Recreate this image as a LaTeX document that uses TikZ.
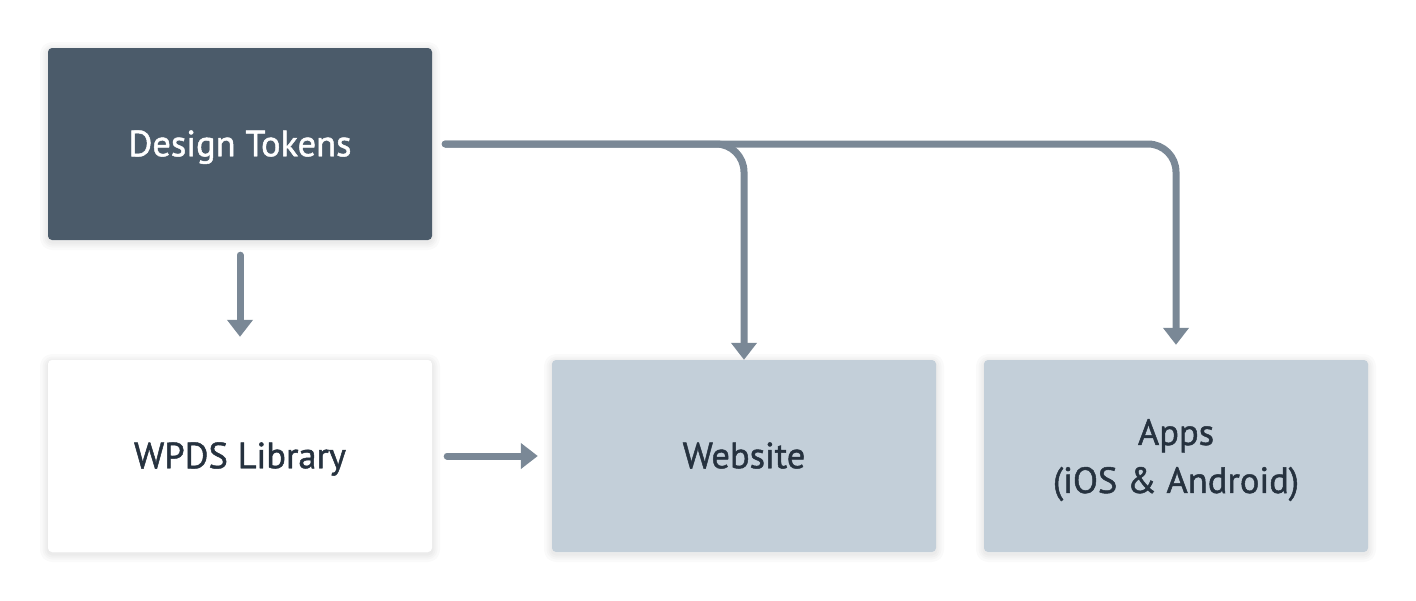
\documentclass[tikz,border=0pt]{standalone}
\usepackage{fontspec}
\setmainfont{PT Sans}[FakeBold=1.3,UprightFeatures={FakeBold=1.3}]
\usetikzlibrary{arrows.meta}
\definecolor{darkbox}{HTML}{4B5B6A}
\definecolor{lightbox}{HTML}{C3CFD9}
\definecolor{conncol}{HTML}{7A8896}
\definecolor{textdark}{HTML}{26323F}
\tikzset{
  shadowring/.style={preaction={draw=black, draw opacity=0.018, line width=#1, line join=round,
      transform canvas={yshift=-2pt}}},
  box/.style={rectangle, rounded corners=4pt, minimum width=384pt, minimum height=192pt,
    inner sep=0pt, font=\fontsize{36.5}{48}\selectfont, text depth=0pt,
    shadowring=16pt, shadowring=11pt, shadowring=7pt, shadowring=3pt},
  oneline/.style={text height=24.5pt},
  darkstyle/.style={box, fill=darkbox, text=white},
  lightstyle/.style={box, fill=lightbox, text=textdark},
  whitestyle/.style={box, fill=white, text=textdark},
  conn/.style={draw=conncol, line width=7pt, line cap=round,
    -{Triangle[width=25pt,length=17pt]}},
}
\begin{document}
\begin{tikzpicture}[x=1pt,y=-1pt]
\useasboundingbox (0,0) rectangle (1416,600);
\fill[white] (0,0) rectangle (1416,600);
\node[darkstyle, oneline] (dt) at (240,144) {Design Tokens};
\node[whitestyle, oneline] (lib) at (240,456) {WPDS Library};
\node[lightstyle, oneline] (web) at (744,456) {Website};
\node[lightstyle, align=center] (apps) at (1176,456) {Apps\\(iOS \& Android)};
\draw[conn, rounded corners=28pt] ([xshift=13pt]dt.east) -| ([yshift=15pt]apps.north);
\draw[conn, rounded corners=28pt] ([xshift=13pt]dt.east) -| (web.north);
\draw[conn] ([yshift=-15pt]dt.south) -- ([yshift=23pt]lib.north);
\draw[conn] ([xshift=15pt]lib.east) -- ([xshift=-14pt]web.west);
\end{tikzpicture}
\end{document}
